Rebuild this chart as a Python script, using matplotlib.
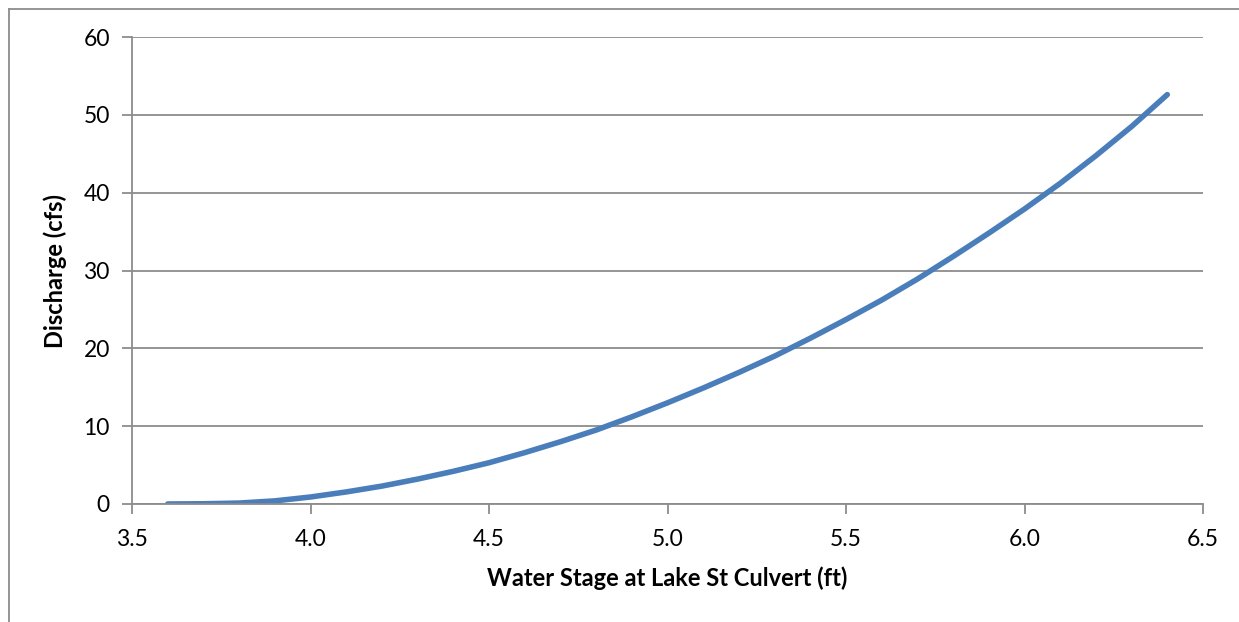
import matplotlib
matplotlib.use("Agg")
import matplotlib.pyplot as plt
from matplotlib.lines import Line2D

# stage (ft) vs discharge (cfs)
stage = [3.6, 3.7, 3.8, 3.9, 4.0, 4.1, 4.2, 4.3, 4.4, 4.5, 4.6, 4.7, 4.8, 4.9, 5.0,
         5.1, 5.2, 5.3, 5.4, 5.5, 5.6, 5.7, 5.8, 5.9, 6.0, 6.1, 6.2, 6.3, 6.4]
discharge = [0.0, 0.03, 0.12, 0.4, 0.9, 1.55, 2.3, 3.2, 4.2, 5.3, 6.6, 8.0, 9.5, 11.2, 13.0,
             14.9, 16.9, 19.0, 21.3, 23.7, 26.2, 28.9, 31.8, 34.8, 37.9, 41.2, 44.75, 48.5, 52.6]
xticks = [3.5, 4.0, 4.5, 5.0, 5.5, 6.0, 6.5]
yticks = [0, 10, 20, 30, 40, 50, 60]

plt.rcParams['font.family'] = ['Lato', 'DejaVu Sans']
grey = '#8c8c8c'

fig = plt.figure(figsize=(12.39, 6.22), dpi=100)
ax = fig.add_axes([132/1239, 1-504/622, (1203-132)/1239, (504-37)/622])

ax.plot(stage, discharge, color='#4a7ebb', linewidth=4, solid_capstyle='round',
        solid_joinstyle='round')

ax.set_xlim(3.5, 6.5)
ax.set_ylim(0, 60)
ax.set_xticks(xticks)
ax.set_xticklabels(['%.1f' % v for v in xticks])
ax.set_yticks(yticks)
ax.grid(True, axis='y', color=grey, linewidth=1.3)
ax.set_axisbelow(True)

for s in ['top', 'right']:
    ax.spines[s].set_visible(False)
for s in ['left', 'bottom']:
    ax.spines[s].set_color(grey)
    ax.spines[s].set_linewidth(1.3)
ax.tick_params(axis='both', direction='out', length=7, width=1.3, color=grey,
               labelsize=16.5, labelcolor='black')
ax.tick_params(axis='x', pad=11)
ax.tick_params(axis='y', pad=9)

ax.set_xlabel('Water Stage at Lake St Culvert (ft)', fontsize=17, fontweight='bold', labelpad=12)
ax.set_ylabel('Discharge (cfs)', fontsize=17, fontweight='bold', labelpad=12)

# chart frame, cut off at right and bottom
fx, fy = 9/1239, 1-9/622
fig.add_artist(Line2D([fx, 1.0], [fy, fy], color=grey, linewidth=1.3))
fig.add_artist(Line2D([fx, fx], [0.0, fy], color=grey, linewidth=1.3))

fig.savefig('out.png', dpi=100)
